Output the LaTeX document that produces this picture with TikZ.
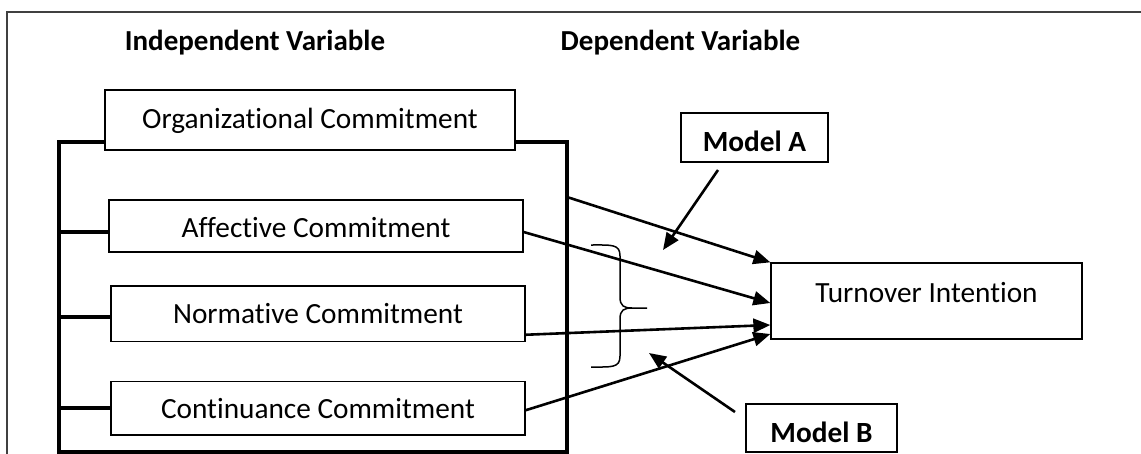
\documentclass[tikz,border=0pt]{standalone}
\usepackage{fontspec}
\setmainfont[Ligatures=NoCommon, Contextuals=NoAlternate]{Carlito}
\usetikzlibrary{arrows.meta,calc}
\begin{document}
\begin{tikzpicture}[x=1pt,y=-1pt,
  box/.style={draw=black, line width=1.3pt, inner sep=0pt, text depth=0pt,
    font=\fontsize{29.3}{34}\selectfont},
  boldbox/.style={box, font=\fontsize{29.3}{34}\selectfont\bfseries},
  head/.style={inner sep=0pt, anchor=base, font=\fontsize{29}{34}\selectfont\bfseries},
  frameline/.style={draw=black!75, line width=1.4pt},
  bracketline/.style={line width=4pt, line join=miter},
  arr/.style={line width=2.6pt, -{Triangle[length=17pt,width=14pt]}},
  braceline/.style={line width=1.5pt}
]
\useasboundingbox (0,0) rectangle (1141,453);
\fill[white] (0,0) rectangle (1141,453);

% outer frame (open at right and bottom)
\draw[frameline] (1150,12) -- (7,12) -- (7,460);

% headings
\node[head] (indep) at (255,50) {Independent Variable};
\node[head] (dep) at (680.5,50) {Dependent Variable};

% boxes
\node[box, minimum width=410pt, minimum height=60pt, text height=16pt] (org) at (310,120) {Organizational Commitment};
\node[box, minimum width=414pt, minimum height=52pt, text height=22pt] (aff) at (316,226) {Affective Commitment};
\node[box, minimum width=414pt, minimum height=55.5pt, text height=18.5pt] (nor) at (318,313.75) {Normative Commitment};
\node[box, minimum width=414pt, minimum height=53.5pt, text height=19.5pt] (con) at (318,408.25) {Continuance Commitment};
\node[box, minimum width=311pt, minimum height=76pt, text height=2pt] (turn) at (926.5,301) {Turnover Intention};
\node[boldbox, minimum width=147pt, minimum height=49pt, text height=27pt] (modA) at (754.5,137.5) {Model A};
\node[boldbox, minimum width=151pt, minimum height=48pt, text height=28pt] (modB) at (821.5,428) {Model B};

% bracket grouping the dimensions
\draw[bracketline] (org.west |- 0,142) -- (59,142) -- (59,452) -- (567,452) -- (567,142) -- (org.east |- 0,142);
\draw[bracketline] (59,232) -- (aff.west |- 0,232);
\draw[bracketline] (59,317) -- (nor.west |- 0,317);
\draw[bracketline] (59,408) -- (con.west |- 0,408);

% curly brace
\draw[braceline] (591,245) .. controls (612,245) and (620,244) .. (620,256) -- (620,297)
  .. controls (620,306) and (624,308) .. (632,308) -- (647,308);
\draw[braceline] (591,367) .. controls (612,367) and (620,368) .. (620,356) -- (620,319)
  .. controls (620,310) and (624,308) .. (632,308);

% arrows to turnover intention
\coordinate (s1) at (567,197);
\draw[arr] (s1) -- (turn.north west);
\draw[arr] ([yshift=-6pt]aff.east) -- ([yshift=-2pt]turn.west);
\draw[arr] ([yshift=-21pt]nor.east) -- ([yshift=-24pt]turn.west);
\draw[arr] ([yshift=-2pt]con.east) -- ([yshift=-33pt]turn.west);

% model pointers
\coordinate (aS) at (718,170);
\coordinate (aT) at (663,250);
\draw[arr] (aS) -- (aT);
\coordinate (bS) at (735,412);
\coordinate (bT) at (649,353);
\draw[arr] (bS) -- (bT);
\end{tikzpicture}
\end{document}
